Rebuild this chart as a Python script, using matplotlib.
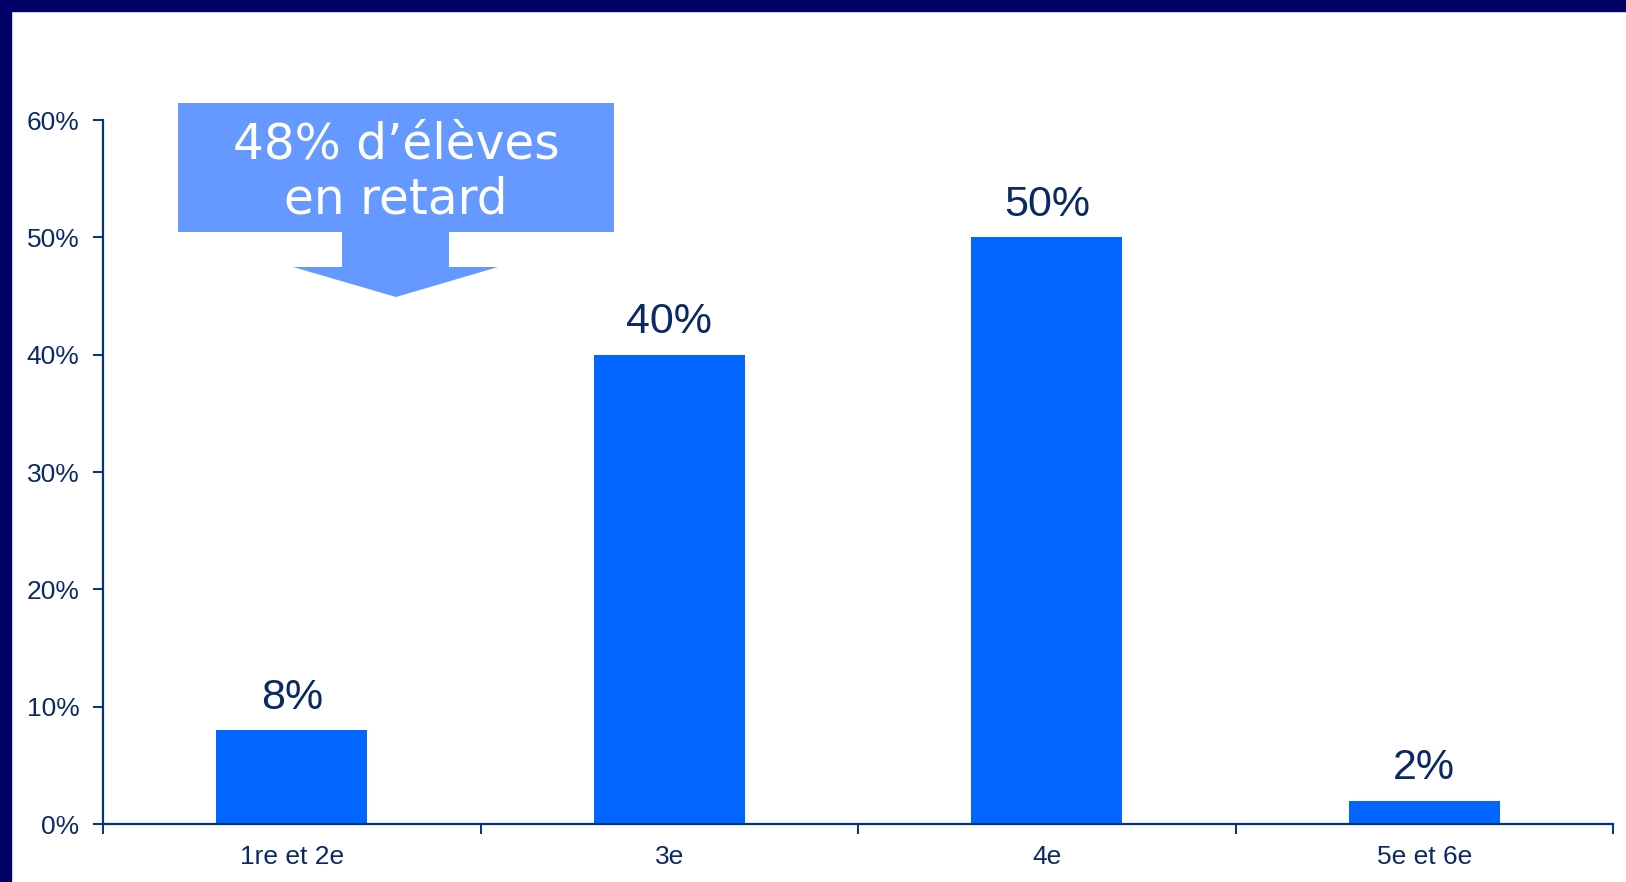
import matplotlib.pyplot as plt
from matplotlib.patches import Rectangle, Polygon
import numpy as np

categories = ["1re et 2e", "3e", "4e", "5e et 6e"]
values = [8, 40, 50, 2]
yticks = [0, 10, 20, 30, 40, 50, 60]
callout = "48% d\u2019élèves\nen retard"

W, H = 1626, 882
navy = "#000066"
axcol = "#003380"
txtcol = "#0B2A63"
barcol = "#0066FF"
boxcol = "#6699FF"

fig = plt.figure(figsize=(W / 100, H / 100), dpi=100)
ax = fig.add_axes([103 / W, 1 - 824 / H, (1613 - 103) / W, (824 - 120) / H])

x = np.arange(len(categories))
ax.bar(x, values, width=0.4, color=barcol)
for xi, v in zip(x, values):
    ax.annotate(f"{v}%", (xi, v), xytext=(0, 9), textcoords="offset points",
                ha="center", va="bottom", fontsize=31, color=txtcol,
                family="Liberation Sans")

ax.set_xlim(-0.5, len(categories) - 0.5)
ax.set_ylim(0, 60)
ax.set_yticks(yticks)
ax.set_yticklabels([f"{t}%" for t in yticks])
ax.set_xticks(x)
ax.set_xticklabels(categories)
ax.set_xticks(np.arange(-0.5, len(categories)), minor=True)

for s in ["top", "right"]:
    ax.spines[s].set_visible(False)
for s in ["left", "bottom"]:
    ax.spines[s].set_color(axcol)
    ax.spines[s].set_linewidth(1.6)

ax.tick_params(axis="y", length=7, width=1.4, color=axcol, labelcolor=txtcol,
               labelsize=19, pad=10)
ax.tick_params(axis="x", which="major", length=0, labelcolor=txtcol,
               labelsize=19, pad=15)
ax.tick_params(axis="x", which="minor", length=7, width=1.4, color=axcol)
for lab in ax.get_xticklabels() + ax.get_yticklabels():
    lab.set_family("Liberation Sans")

# navy frame strips at top and left
fig.patches.append(Rectangle((0, 1 - 11 / H), 1, 11 / H, transform=fig.transFigure,
                             color=navy, zorder=0))
fig.patches.append(Rectangle((0, 0), 11 / W, 1, transform=fig.transFigure,
                             color=navy, zorder=0))

# callout arrow
pts = [(178, 103), (614, 103), (614, 232), (449, 232), (449, 267), (498, 267),
       (396, 297), (293, 267), (342, 267), (342, 232), (178, 232)]
fig.patches.append(Polygon([(px / W, 1 - py / H) for px, py in pts],
                           closed=True, transform=fig.transFigure,
                           facecolor=boxcol, edgecolor="none", zorder=3))
fig.text(396 / W, 1 - 172 / H, callout, ha="center", va="center", color="white",
         fontsize=35, family="DejaVu Sans", linespacing=1.2, zorder=4)

fig.savefig("out.png", dpi=100)
